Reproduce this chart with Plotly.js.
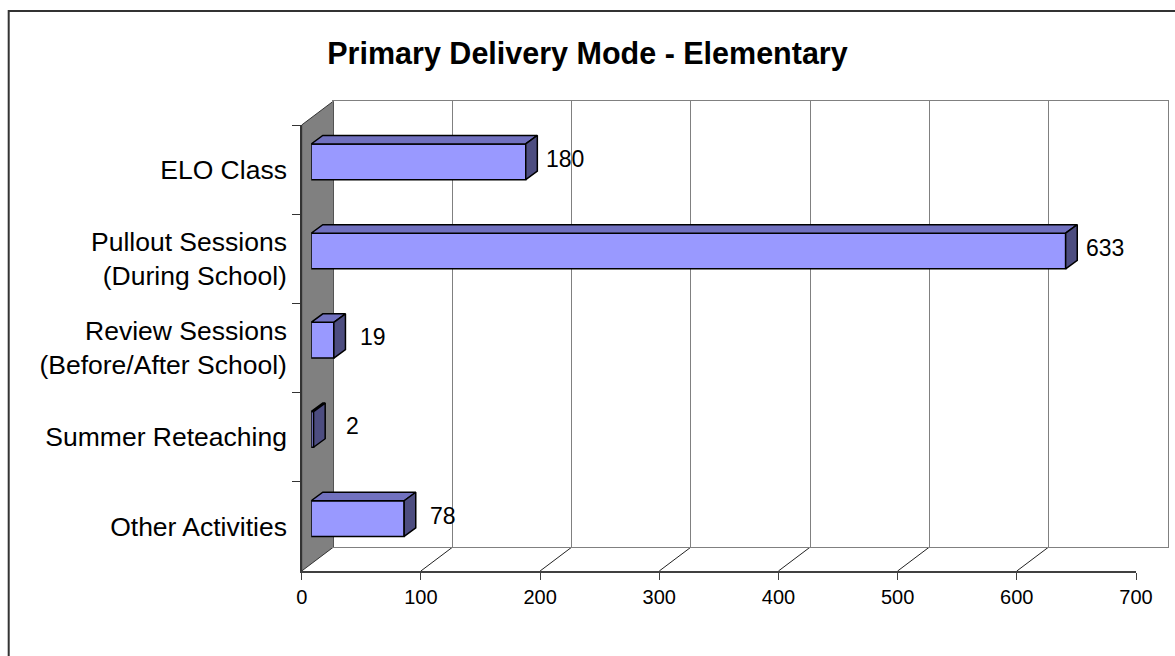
<!DOCTYPE html>
<html>
<head>
<meta charset="utf-8">
<script src="https://cdn.plot.ly/plotly-3.0.1.min.js"></script>
<style>html,body{margin:0;padding:0;background:#fff;}#chart{width:1175px;height:656px;}</style>
</head>
<body>
<div id="chart"></div>
<script>
// ---- data ----
const categories = ["ELO Class", "Pullout Sessions<br>(During School)", "Review Sessions<br>(Before/After School)", "Summer Reteaching", "Other Activities"];
const values = [180, 633, 19, 2, 78];
const xTicks = [0, 100, 200, 300, 400, 500, 600, 700];
const chartTitle = "Primary Delivery Mode - Elementary";

// ---- geometry (pixels) ----
const W = 1175, H = 656;
const FX0 = 301.7, FX1 = 1136, FYT = 125, FYB = 571;   // front plane of the plot box
const DX = 31.6, DY = 23.8;                              // wall depth
const BSX = 9.5, BSY = 7.8;                              // bar front plane shift
const BDX = 11.6, BDY = 8.5;                             // bar depth
const XMAX = 700;
const px = x => x / W, py = y => 1 - y / H;
const xScale = (FX1 - FX0) / XMAX;                       // px per unit
const catPx = (FYB - FYT) / categories.length;           // px per category
const ddx = BDX / xScale, ddy = BDY / catPx;
const barWidth = 0.4;
const FONT = "Liberation Sans, Arial, sans-serif";

const idx = values.map((v, i) => i);

// front faces
const bars = {
  type: 'bar', orientation: 'h', x: values, y: idx, width: barWidth,
  xaxis: 'x3', yaxis: 'y3',
  marker: {color: '#9999FF', line: {color: '#000000', width: 1.5}},
  hoverinfo: 'skip', cliponaxis: false
};
// top & side faces
const topX = [], topY = [], sideX = [], sideY = [];
values.forEach((v, i) => {
  const yt = i - barWidth / 2, yb = i + barWidth / 2;
  topX.push(0, v, v + ddx, ddx, 0, null);
  topY.push(yt, yt, yt - ddy, yt - ddy, yt, null);
  sideX.push(v, v, v + ddx, v + ddx, v, null);
  sideY.push(yt, yb, yb - ddy, yt - ddy, yt, null);
});
const tops = {type: 'scatter', mode: 'lines', x: topX, y: topY, fill: 'toself', fillcolor: '#7171BF',
  line: {color: '#000000', width: 1.5}, xaxis: 'x3', yaxis: 'y3', hoverinfo: 'skip', connectgaps: false};
const sides = {type: 'scatter', mode: 'lines', x: sideX, y: sideY, fill: 'toself', fillcolor: '#4D4D80',
  line: {color: '#000000', width: 1.5}, xaxis: 'x3', yaxis: 'y3', hoverinfo: 'skip', connectgaps: false};
// category carrier for front axis
const carrier = {type: 'scatter', mode: 'markers', x: values, y: categories, marker: {opacity: 0},
  xaxis: 'x', yaxis: 'y', hoverinfo: 'skip'};
// carrier for back wall subplot
const wallCarrier = {type: 'scatter', mode: 'markers', x: values, y: values.map(() => 0.5), marker: {opacity: 0},
  xaxis: 'x2', yaxis: 'y2', hoverinfo: 'skip'};

const shapes = [];
// outer border
shapes.push({type: 'rect', xref: 'paper', yref: 'paper', x0: px(8.7), y0: py(11), x1: px(W + 10), y1: py(H + 10),
  line: {color: '#333333', width: 2}, layer: 'below'});
// left wall
shapes.push({type: 'path', xref: 'paper', yref: 'paper', layer: 'below',
  path: `M ${px(FX0)},${py(FYT)} L ${px(FX0 + DX)},${py(FYT - DY)} L ${px(FX0 + DX)},${py(FYB - DY)} L ${px(FX0)},${py(FYB)} Z`,
  fillcolor: '#808080', line: {color: '#333333', width: 1}});
// floor diagonals
xTicks.forEach(v => {
  if (v === 0) return;
  shapes.push({type: 'line', xref: 'x', xsizemode: 'pixel', xanchor: v, x0: 0, x1: DX,
    yref: 'paper', y0: py(FYB), y1: py(FYB - DY),
    line: {color: v === XMAX ? '#808080' : '#222222', width: 1}, layer: 'below'});
});

const annotations = values.map((v, i) => ({
  xref: 'x3', yref: 'y3', x: v, y: i, text: String(v), showarrow: false,
  xanchor: 'center', yanchor: 'middle', xshift: 39, yshift: 3,
  font: {family: FONT, size: 23, color: '#000000'}
}));

const layout = {
  width: W, height: H,
  margin: {l: 0, r: 0, t: 0, b: 0, pad: 0},
  paper_bgcolor: '#ffffff', plot_bgcolor: 'rgba(0,0,0,0)',
  showlegend: false,
  font: {family: FONT, color: '#000000'},
  title: {text: chartTitle, x: 587.5 / W, xanchor: 'center', xref: 'container', y: py(53), yref: 'container', yanchor: 'middle',
    font: {family: FONT, size: 30.5, weight: 'bold', color: '#000000'}},
  xaxis: {domain: [px(FX0), px(FX1)], anchor: 'y', range: [0, XMAX], tickvals: xTicks, showgrid: false, zeroline: false,
    showline: true, linecolor: '#404040', linewidth: 2, ticks: 'outside', ticklen: 7, tickcolor: '#404040', tickwidth: 1,
    tickfont: {family: FONT, size: 20, color: '#000000'}, fixedrange: true},
  yaxis: {domain: [py(FYB), py(FYT)], anchor: 'x', type: 'category', categoryorder: 'array', categoryarray: categories,
    range: [categories.length - 0.5, -0.5], tickson: 'boundaries', ticks: 'outside', ticklen: 8, tickcolor: '#333333', tickwidth: 1,
    showline: true, linecolor: '#333333', linewidth: 1.5, showgrid: false, zeroline: false, ticklabelstandoff: 8,
    tickfont: {family: FONT, size: 26.5, color: '#000000'}, fixedrange: true},
  xaxis2: {domain: [px(FX0 + DX), px(FX1 + DX)], anchor: 'y2', range: [0, XMAX], tickvals: xTicks, showgrid: true,
    gridcolor: '#808080', gridwidth: 1, zeroline: false, showticklabels: false, ticks: '',
    showline: true, mirror: true, linecolor: '#808080', linewidth: 1, fixedrange: true},
  yaxis2: {domain: [py(FYB - DY), py(FYT - DY)], anchor: 'x2', range: [0, 1], showgrid: false, zeroline: false,
    showticklabels: false, ticks: '', showline: true, mirror: true, linecolor: '#808080', linewidth: 1, fixedrange: true},
  xaxis3: {domain: [px(FX0 + BSX), px(FX1 + BSX)], anchor: 'y3', range: [0, XMAX], visible: false, fixedrange: true},
  yaxis3: {domain: [py(FYB - BSY), py(FYT - BSY)], anchor: 'x3', range: [categories.length - 0.5, -0.5], visible: false, fixedrange: true},
  shapes: shapes,
  annotations: annotations
};

Plotly.newPlot('chart', [wallCarrier, carrier, bars, tops, sides], layout, {displayModeBar: false, staticPlot: true});
</script>
</body>
</html>
